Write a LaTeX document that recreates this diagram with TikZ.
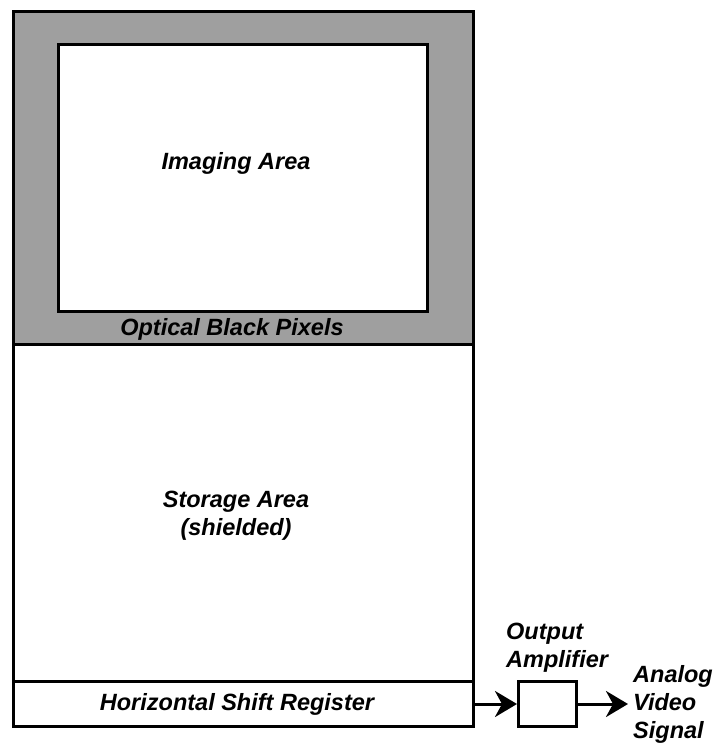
\documentclass[tikz,border=0pt]{standalone}
\usepackage{fontspec}
\setmainfont{Liberation Sans}
\usetikzlibrary{arrows.meta, positioning}

\tikzset{
    block/.style={draw=black, line width=3pt, inner sep=0pt, anchor=north west},
    lbl/.style={font=\fontsize{23.5}{28}\selectfont\bfseries\itshape, align=center,
                inner sep=0pt, anchor=base},
}

\begin{document}
\begin{tikzpicture}[x=1pt, y=-1pt, >={Stealth[length=22pt, width=26pt, inset=7pt]}]

    \useasboundingbox (0,0) rectangle (716,746);

    % ── Sensor blocks ─────────────────────────────────────────────────────────
    \node[block, fill=gray!75, minimum width=460pt, minimum height=333pt] (obp) at (12,10) {};
    \node[block, fill=white, minimum width=369pt, minimum height=267pt] (img) at (57,43) {};
    \node[block, fill=white, minimum width=460pt, minimum height=337pt] (stor) at (12,343) {};
    \node[block, fill=white, minimum width=460pt, minimum height=45pt] (hsr) at (12,680) {};

    % ── Output amplifier ──────────────────────────────────────────────────────
    \node[block, fill=white, minimum width=58pt, minimum height=45pt] (amp) at (517,680) {};

    % ── Labels (multi-line ones sit on their last baseline) ───────────────────
    \node[lbl] (imglbl) at (236,169) {Imaging Area};
    \node[lbl] (obplbl) at (232,335) {Optical Black Pixels};
    \node[lbl] (storlbl) at (236,535) {Storage Area\\(shielded)};
    \node[lbl] (hsrlbl) at (237,710) {Horizontal Shift Register};
    \node[lbl, align=left, anchor=base west] (amplbl) at (506,667) {Output\\Amplifier};
    \node[lbl, align=left, anchor=base west] (sig) at (633,738) {Analog\\Video\\Signal};
    \coordinate (sigin) at ([xshift=50pt]amp.east);

    % ── Signal path ───────────────────────────────────────────────────────────
    \draw[->, line width=3pt] (hsr.east) -- (amp.west);
    \draw[->, line width=3pt] (amp.east) -- (sigin);

\end{tikzpicture}
\end{document}
